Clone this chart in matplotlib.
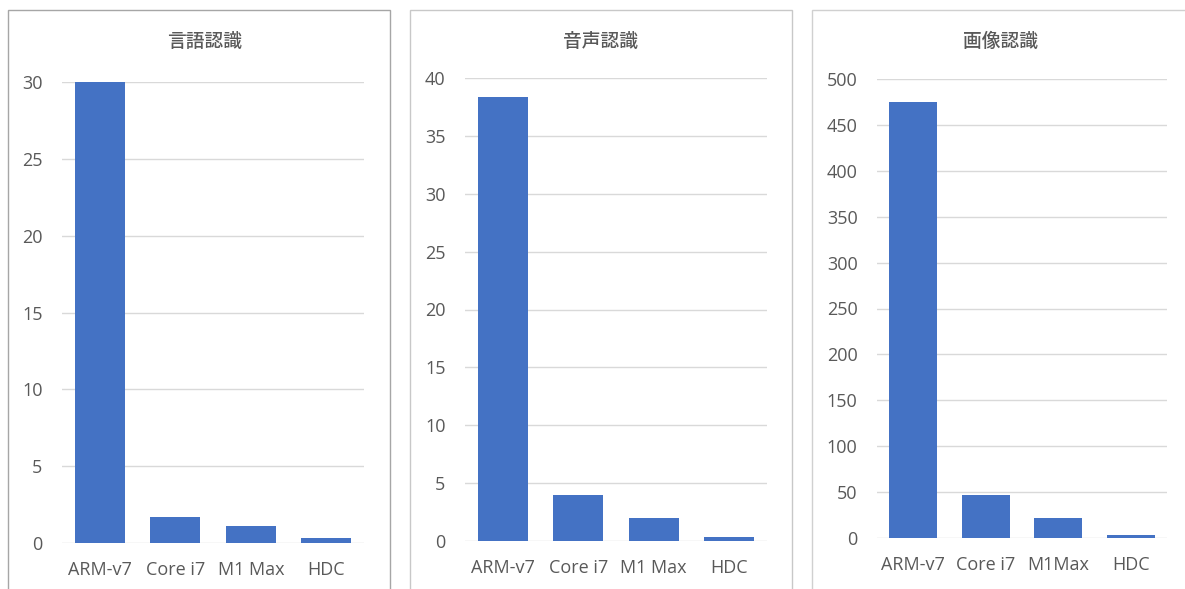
import matplotlib
matplotlib.use("Agg")
import matplotlib.pyplot as plt
from matplotlib.patches import Rectangle

# data
titles = ["言語認識", "音声認識", "画像認識"]
labels_a = ["ARM-v7", "Core i7", "M1 Max", "HDC"]
labels_c = ["ARM-v7", "Core i7", "M1Max", "HDC"]
lang_vals = [30.0, 1.7, 1.1, 0.35]
speech_vals = [38.4, 4.0, 2.0, 0.35]
image_vals = [475, 47, 22, 3]
yticks_lang = [0, 5, 10, 15, 20, 25, 30]
yticks_speech = [0, 5, 10, 15, 20, 25, 30, 35, 40]
yticks_image = [0, 50, 100, 150, 200, 250, 300, 350, 400, 450, 500]

W, H = 1185, 589
BAR = "#4472C4"
TXT = "#595959"
GRID = "#D9D9D9"

plt.rcParams["font.family"] = ["Open Sans", "Noto Sans CJK JP", "DejaVu Sans"]

fig = plt.figure(figsize=(W / 100, H / 100), dpi=100)


def px_box(x0, x1, ytop, ybot):
    return [x0 / W, 1 - ybot / H, (x1 - x0) / W, (ybot - ytop) / H]


# chart frames (pixel coords: left, right, top, colour)
frames = [(8, 390, 10, "#A6A6A6"), (410, 792, 10, "#C8C8C8"), (812, 1190, 10, "#D0D0D0")]
for fx0, fx1, ft, fc in frames:
    fig.patches.append(Rectangle((fx0 / W, -0.02), (fx1 - fx0) / W, 1 - ft / H + 0.02,
                                 transform=fig.transFigure, fill=False,
                                 edgecolor=fc, linewidth=1.0))

panels = [
    (titles[0], labels_a, lang_vals, yticks_lang, (62, 364, 82, 543), 205),
    (titles[1], labels_a, speech_vals, yticks_speech, (465, 767, 78, 541), 600),
    (titles[2], labels_c, image_vals, yticks_image, (877, 1167, 79, 538), 1000),
]

for title, cats, vals, yt, box, tx in panels:
    ax = fig.add_axes(px_box(*box))
    ax.bar(range(len(cats)), vals, width=0.66, color=BAR, zorder=3)
    ax.set_xlim(-0.5, len(cats) - 0.5)
    ax.set_ylim(0, yt[-1])
    ax.set_yticks(yt)
    ax.set_xticks(range(len(cats)))
    ax.set_xticklabels(cats)
    ax.yaxis.grid(True, color=GRID, linewidth=1.0, zorder=0)
    for s in ax.spines.values():
        s.set_visible(False)
    ax.tick_params(axis="both", length=0, labelsize=13, colors=TXT)
    ax.tick_params(axis="x", pad=13)
    ax.tick_params(axis="y", pad=14)
    ax.set_facecolor("none")
    fig.text(tx / W, 1 - 41 / H, title, ha="center", va="center",
             fontsize=13.5, color=TXT, weight="medium",
             family=["Noto Sans CJK JP", "DejaVu Sans"])

fig.savefig("out.png", dpi=100)
